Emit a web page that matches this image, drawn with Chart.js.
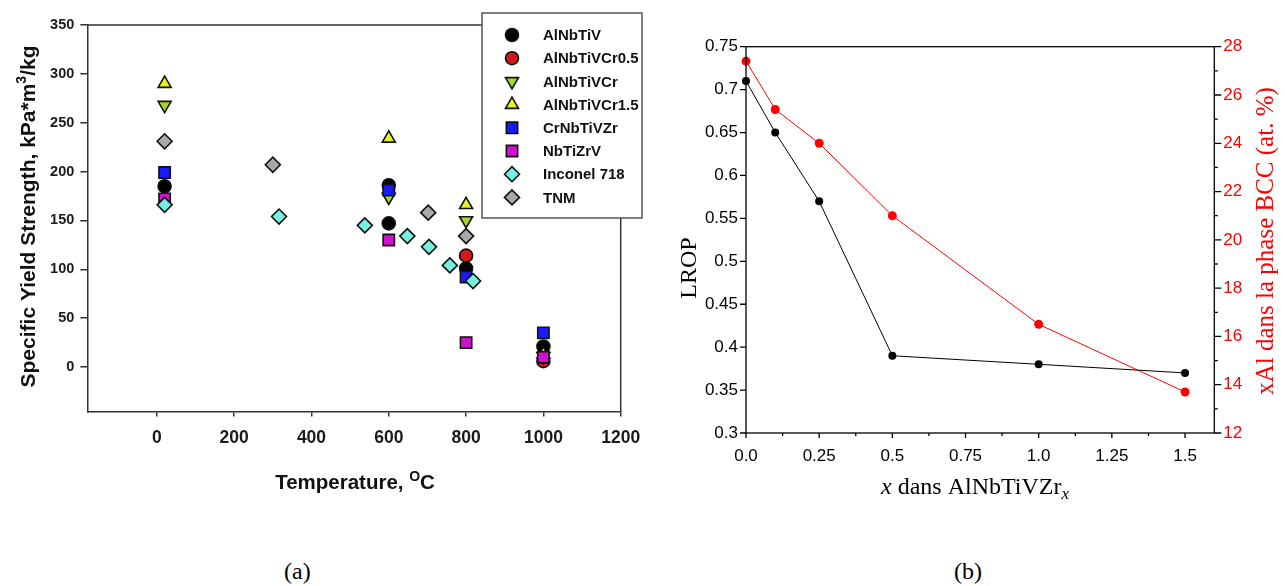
<!DOCTYPE html>
<html><head><meta charset="utf-8">
<script src="https://cdn.jsdelivr.net/npm/chart.js@4/dist/chart.umd.min.js"></script>
<style>
html,body{margin:0;padding:0;background:#fff;width:1285px;height:586px;overflow:hidden;}
canvas{position:absolute;top:0;}
#ca{left:0;}
#cb{left:660px;}
.cap{position:absolute;top:558px;font-family:"Liberation Serif",serif;font-size:24px;color:#000;}
</style></head><body>
<canvas id="ca" width="660" height="520"></canvas>
<canvas id="cb" width="625" height="520"></canvas>
<div class="cap" style="left:284px">(a)</div>
<div class="cap" style="left:954px">(b)</div>
<script>
// ---------- Panel (a) data ----------
const seriesNamesA = ['AlNbTiV','AlNbTiVCr0.5','AlNbTiVCr','AlNbTiVCr1.5','CrNbTiVZr','NbTiZrV','Inconel 718','TNM'];
const alnbtivT = [20, 600, 600, 800, 1000];
const alnbtivS = [185, 186, 147, 101, 21];
const alnbtivcr05T = [800, 1000];
const alnbtivcr05S = [114, 6];
const alnbtivcrT = [20, 600, 800, 1000];
const alnbtivcrS = [268, 174, 150, 11];
const alnbtivcr15T = [20, 600, 800, 1000];
const alnbtivcr15S = [290, 234, 166, 13];
const crnbtivzrT = [20, 600, 800, 1000];
const crnbtivzrS = [199, 181, 92, 35];
const nbtizrvT = [20, 600, 800, 1000];
const nbtizrvS = [172, 130, 25, 10];
const inconelT = [20, 316, 538, 648, 704, 758, 818];
const inconelS = [166, 154, 145, 134, 123, 104, 88];
const tnmT = [20, 300, 702, 800];
const tnmS = [231, 207, 158, 134];
const xTicksA = [0, 200, 400, 600, 800, 1000, 1200];
const yTicksA = [0, 50, 100, 150, 200, 250, 300, 350];

// ---------- Panel (b) data ----------
const xB = [0, 0.1, 0.25, 0.5, 1.0, 1.5];
const lropB = [0.71, 0.65, 0.57, 0.39, 0.38, 0.37];
const xAlB = [27.4, 25.4, 24.0, 21.0, 16.5, 13.7];
const xTickValsB = [0, 0.25, 0.5, 0.75, 1.0, 1.25, 1.5];
const xTickLabelsB = ['0.0','0.25','0.5','0.75','1.0','1.25','1.5'];
const xMinorB = [0.125, 0.375, 0.625, 0.875, 1.125, 1.375];
const yTickValsB = [0.3, 0.35, 0.4, 0.45, 0.5, 0.55, 0.6, 0.65, 0.7, 0.75];
const yTickLabelsB = ['0.3','0.35','0.4','0.45','0.5','0.55','0.6','0.65','0.7','0.75'];
const y2TickValsB = [12, 14, 16, 18, 20, 22, 24, 26, 28];
const y2MinorB = [13, 15, 17, 19, 21, 23, 25, 27];

// ---------- styles ----------
const colorsA = ['#000000','#d01a1a','#a8d62c','#e8ef24','#1a1aff','#d012d0','#74f0e0','#a9a9a9'];
const shapesA = ['circle','circle','triangle','triangle','rect','rect','rectRot','rectRot'];
const rotA = [0,0,180,0,0,0,0,0];
const radA = [6.5,6.5,7.5,7.5,8,8,7.5,7.5];

function pts(xs, ys){ return xs.map((x,i)=>({x:x, y:ys[i]})); }
const rawA = [[alnbtivT,alnbtivS],[alnbtivcr05T,alnbtivcr05S],[alnbtivcrT,alnbtivcrS],[alnbtivcr15T,alnbtivcr15S],
  [crnbtivzrT,crnbtivzrS],[nbtizrvT,nbtizrvS],[inconelT,inconelS],[tnmT,tnmS]];

const datasetsA = rawA.map((r,i)=>({
  label: seriesNamesA[i], data: pts(r[0], r[1]),
  pointStyle: shapesA[i], pointRotation: rotA[i], pointRadius: radA[i],
  pointBackgroundColor: colorsA[i], pointBorderColor: '#111', pointBorderWidth: 1.6,
  backgroundColor: colorsA[i], borderColor:'#111', showLine:false, clip:false,
  order: seriesNamesA.length - i
}));

function drawMarker(ctx, style, rot, r, x, y){
  if (Chart.helpers && Chart.helpers.drawPoint) {
    Chart.helpers.drawPoint(ctx, {pointStyle: style, rotation: rot, radius: r, borderWidth: ctx.lineWidth}, x, y);
    return;
  }
  ctx.beginPath(); ctx.arc(x,y,r,0,Math.PI*2); ctx.fill(); ctx.stroke();
}

function drawRich(ctx, parts, cx, y){
  let total = 0;
  parts.forEach(p=>{ ctx.font = p.f; p.w = ctx.measureText(p.t).width; total += p.w; });
  let x = cx - total/2;
  ctx.textAlign = 'left'; ctx.textBaseline = 'alphabetic';
  parts.forEach(p=>{ ctx.font = p.f; ctx.fillText(p.t, x, y + (p.dy||0)); x += p.w; });
}

const BOLD = (s)=> 'bold ' + s + 'px "Liberation Sans", Arial, sans-serif';

const decorA = {
  id: 'decorA',
  afterDraw(chart){
    const ctx = chart.ctx, a = chart.chartArea;
    ctx.save();
    // top and right frame
    ctx.strokeStyle = '#333'; ctx.lineWidth = 1.5;
    ctx.beginPath();
    ctx.moveTo(a.left, a.top); ctx.lineTo(a.right, a.top); ctx.lineTo(a.right, a.bottom);
    ctx.stroke();
    // legend box
    const lx = 482, ly = 13, lw = 160, lh = 205;
    ctx.fillStyle = '#fff'; ctx.fillRect(lx, ly, lw, lh);
    ctx.strokeStyle = '#555'; ctx.lineWidth = 1.5; ctx.strokeRect(lx, ly, lw, lh);
    seriesNamesA.forEach((n,i)=>{
      const yy = 35 + i*23.2;
      ctx.fillStyle = colorsA[i]; ctx.strokeStyle = '#111'; ctx.lineWidth = 1.6;
      drawMarker(ctx, shapesA[i], rotA[i], radA[i], 512, yy);
      ctx.fillStyle = '#111'; ctx.font = BOLD(15); ctx.textAlign='left'; ctx.textBaseline='middle';
      ctx.fillText(n, 543, yy+1);
    });
    // axis titles
    ctx.fillStyle = '#111';
    drawRich(ctx, [{t:'Temperature, ', f:BOLD(20.5)},{t:'O', f:BOLD(14), dy:-8},{t:'C', f:BOLD(20.5)}], 355, 489);
    ctx.save();
    ctx.translate(35, 216.5); ctx.rotate(-Math.PI/2);
    drawRich(ctx, [{t:'Specific Yield Strength, kPa*m', f:BOLD(21)},{t:'3', f:BOLD(14), dy:-9},{t:'/kg', f:BOLD(21)}], 0, 0);
    ctx.restore();
    ctx.restore();
  }
};

new Chart(document.getElementById('ca'), {
  type: 'scatter',
  data: { datasets: datasetsA },
  options: {
    responsive: false, animation: false,
    layout: { padding: { left: 0, right: 39.3, top: 25, bottom: 0 } },
    plugins: { legend: { display: false }, tooltip: { enabled: false } },
    scales: {
      x: {
        type: 'linear', min: -180, max: 1200,
        afterBuildTicks: s => { s.ticks = xTicksA.map(v => ({ value: v })); },
        afterFit: s => { s.height = 520 - 411.5; },
        grid: { drawOnChartArea: false, drawTicks: true, tickLength: 5, color: '#333', lineWidth: 1.5 },
        border: { display: true, color: '#333', width: 1.5 },
        ticks: { font: { family: '"Liberation Sans", Arial, sans-serif', weight: 'bold', size: 17.5 }, color: '#1a1a1a',
                 padding: 11, maxRotation: 0, autoSkip: false, callback: v => String(v) }
      },
      y: {
        type: 'linear', min: -45.5, max: 350,
        afterBuildTicks: s => { s.ticks = yTicksA.map(v => ({ value: v })); },
        afterFit: s => { s.width = 87.3; },
        grid: { drawOnChartArea: false, drawTicks: true, tickLength: 7, color: '#333', lineWidth: 1.5 },
        border: { display: true, color: '#333', width: 1.5 },
        ticks: { font: { family: '"Liberation Sans", Arial, sans-serif', weight: 'bold', size: 14.5 }, color: '#1a1a1a',
                 padding: 6, autoSkip: false, callback: v => String(v) }
      }
    }
  },
  plugins: [decorA]
});

// ---------- Panel (b) ----------
const SERIF = (s, it)=> (it ? 'italic ' : '') + s + 'px "Liberation Serif", "Times New Roman", serif';
const decorB = {
  id: 'decorB',
  afterDraw(chart){
    const ctx = chart.ctx, a = chart.chartArea, sx = chart.scales.x, sy = chart.scales.y, sy2 = chart.scales.y2;
    ctx.save();
    ctx.strokeStyle = '#000'; ctx.lineWidth = 1.3;
    ctx.strokeRect(a.left, a.top, a.right - a.left, a.bottom - a.top);
    ctx.beginPath();
    yTickValsB.forEach(v => { const p = sy.getPixelForValue(v); ctx.moveTo(a.left - 6, p); ctx.lineTo(a.left, p); });
    y2TickValsB.forEach(v => { const p = sy2.getPixelForValue(v); ctx.moveTo(a.right, p); ctx.lineTo(a.right + 7, p); });
    y2MinorB.forEach(v => { const p = sy2.getPixelForValue(v); ctx.moveTo(a.right, p); ctx.lineTo(a.right + 3.5, p); });
    xTickValsB.forEach(v => { const p = sx.getPixelForValue(v); ctx.moveTo(p, a.bottom); ctx.lineTo(p, a.bottom + 5); });
    xMinorB.forEach(v => { const p = sx.getPixelForValue(v); ctx.moveTo(p, a.bottom); ctx.lineTo(p, a.bottom + 3); });
    ctx.stroke();
    // titles
    ctx.fillStyle = '#000';
    drawRich(ctx, [{t:'x', f:SERIF(24,true)},{t:' dans AlNbTiVZr', f:SERIF(24)},{t:'x', f:SERIF(17,true), dy:5}], 315, 494);
    ctx.save();
    ctx.translate(36, 268); ctx.rotate(-Math.PI/2);
    drawRich(ctx, [{t:'LROP', f:SERIF(24)}], 0, 0);
    ctx.restore();
    ctx.save();
    ctx.fillStyle = '#ff0000';
    ctx.translate(613, 241); ctx.rotate(-Math.PI/2);
    drawRich(ctx, [{t:'xAl dans la phase BCC (at. %)', f:SERIF(25)}], 0, 0);
    ctx.restore();
    ctx.restore();
  }
};

new Chart(document.getElementById('cb'), {
  type: 'line',
  data: { datasets: [
    { label: 'LROP', data: pts(xB, lropB), yAxisID: 'y', borderColor: '#000', backgroundColor: '#000',
      borderWidth: 1, pointRadius: 4, pointBackgroundColor: '#000', pointBorderColor: '#000', pointBorderWidth: 0,
      tension: 0, clip: false },
    { label: 'xAl', data: pts(xB, xAlB), yAxisID: 'y2', borderColor: '#ff0000', backgroundColor: '#ff0000',
      borderWidth: 1, pointRadius: 4.5, pointBackgroundColor: '#ff0000', pointBorderColor: '#ff0000', pointBorderWidth: 0,
      tension: 0, clip: false }
  ] },
  options: {
    responsive: false, animation: false,
    layout: { padding: { left: 0, right: 0, top: 46.7, bottom: 0 } },
    plugins: { legend: { display: false }, tooltip: { enabled: false } },
    scales: {
      x: {
        type: 'linear', min: 0, max: 1.6,
        afterBuildTicks: s => { s.ticks = xTickValsB.map(v => ({ value: v })); },
        afterFit: s => { s.height = 520 - 433; },
        grid: { display: true, drawOnChartArea: false, drawTicks: false },
        border: { display: false },
        ticks: { font: { family: '"Liberation Sans", Arial, sans-serif', size: 17 }, color: '#000', padding: 13,
                 maxRotation: 0, autoSkip: false, callback: (v, i) => xTickLabelsB[i] }
      },
      y: {
        type: 'linear', position: 'left', min: 0.3, max: 0.75,
        afterBuildTicks: s => { s.ticks = yTickValsB.map(v => ({ value: v })); },
        afterFit: s => { s.width = 86; },
        grid: { display: true, drawOnChartArea: false, drawTicks: false },
        border: { display: false },
        ticks: { font: { family: '"Liberation Sans", Arial, sans-serif', size: 17 }, color: '#000', padding: 8,
                 autoSkip: false, callback: (v, i) => yTickLabelsB[i] }
      },
      y2: {
        type: 'linear', position: 'right', min: 12, max: 28,
        afterBuildTicks: s => { s.ticks = y2TickValsB.map(v => ({ value: v })); },
        afterFit: s => { s.width = 70.7; },
        grid: { display: true, drawOnChartArea: false, drawTicks: false },
        border: { display: false },
        ticks: { font: { family: '"Liberation Sans", Arial, sans-serif', size: 17 }, color: '#ff0000', padding: 9,
                 autoSkip: false, callback: v => String(v) }
      }
    }
  },
  plugins: [decorB]
});
</script>
</body></html>
